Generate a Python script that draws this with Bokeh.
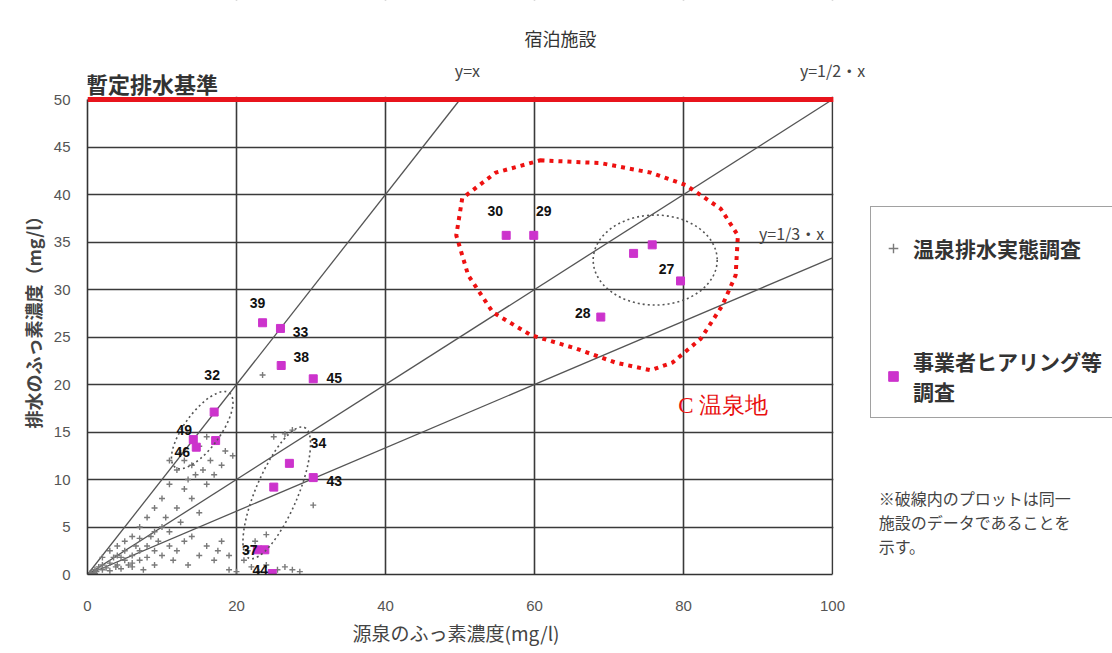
from bokeh.plotting import figure
from bokeh.models import (Range1d, Span, Label, LabelSet, ColumnDataSource,
                          Legend, LegendItem, FixedTicker, BoxAnnotation, Title)
from bokeh.embed import file_html
from bokeh.resources import INLINE
from bokeh.core.properties import value

# ---------------- data ----------------
title_text = "宿泊施設"
x_label = "源泉のふっ素濃度(mg/l)"
y_label = "排水のふっ素濃度（mg/l）"
x_ticks = [0, 20, 40, 60, 80, 100]
y_ticks = [0, 5, 10, 15, 20, 25, 30, 35, 40, 45, 50]
limit_value = 50
limit_label = "暫定排水基準"
ref_slopes = [1.0, 1 / 2, 1 / 3]
ref_labels = ["y=x", "y=1/2・x", "y=1/3・x"]
series_names = ["温泉排水実態調査", "事業者ヒアリング等\n調査"]
note_lines = ["※破線内のプロットは同一", "施設のデータであることを", "示す。"]
area_label = "C 温泉地"

# 温泉排水実態調査 (gray crosses)
survey_x = [0.3, 0.5, 1.0, 1.0, 1.2, 1.5, 2.0, 2.0, 2.0, 2.5, 3.0, 3.0, 3.0, 3.5, 3.8,
            4.0, 4.0, 4.0, 4.5, 4.5, 5.0, 5.0, 5.0, 5.5, 6.0, 6.0, 6.0, 6.0, 6.5, 7.0,
            7.0, 7.0, 7.0, 7.5, 8.0, 8.0, 8.0, 8.5, 9.0, 9.0, 9.0, 9.0, 9.5, 10.0,
            10.0, 10.0, 10.5, 11.0, 11.0, 11.0, 11.0, 11.5, 12.0, 12.0, 12.0, 12.5,
            12.5, 13.0, 13.0, 13.0, 13.5, 13.5, 14.0, 14.0, 14.0, 14.5, 15.0, 15.0,
            15.0, 15.5, 16.0, 16.0, 16.0, 16.5, 17.0, 17.0, 17.5, 18.0, 18.0, 18.5,
            19.0, 19.0, 19.5, 20.0, 21.0, 21.5, 22.0, 22.5, 23.0, 24.0, 24.0, 25.0,
            25.5, 26.5, 26.5, 27.5, 27.5, 28.5, 23.5, 30.3]
survey_y = [0.1, 0.2, 0.5, 0.1, 0.3, 0.8, 0.5, 1.0, 1.8, 0.7, 1.2, 0.4, 2.5, 1.8, 0.8,
            1.0, 2.0, 3.0, 0.6, 1.8, 1.5, 2.5, 3.5, 1.0, 2.0, 0.8, 4.0, 1.2, 3.0, 1.5,
            2.5, 5.0, 3.8, 0.5, 3.0, 1.8, 6.0, 4.0, 2.5, 1.0, 7.0, 4.5, 3.5, 5.0,
            2.0, 8.0, 6.0, 3.0, 4.5, 9.5, 12.0, 1.5, 7.0, 2.5, 11.0, 5.5,
            12.8, 3.5, 9.0, 12.0, 1.0, 10.0, 8.0, 4.0, 11.5, 10.5, 2.0, 6.5,
            13.5, 11.0, 3.0, 9.5, 14.5, 12.0, 1.5, 10.5, 2.5, 11.5, 3.5, 13.0,
            2.0, 0.5, 12.5, 0.3, 1.5, 2.5, 0.8, 3.5, 0.3, 1.0, 4.2, 14.5,
            0.5, 0.8, 14.8, 0.5, 15.2, 0.3, 21.0, 7.3]

# 事業者ヒアリング等調査 (magenta squares)
hearing_x = [56.2, 59.9, 68.9, 73.3, 75.8, 79.6, 23.5, 25.9, 26.0, 30.3,
             17.0, 14.2, 14.6, 17.2, 27.1, 25.0, 30.3, 22.8, 23.8, 24.8]
hearing_y = [35.7, 35.7, 27.1, 33.8, 34.7, 30.9, 26.5, 25.9, 22.0, 20.6,
             17.1, 14.2, 13.4, 14.1, 11.7, 9.2, 10.2, 2.6, 2.6, 0.1]
hearing_id = ["30", "29", "28", "", "", "27", "39", "33", "38", "45",
              "32", "49", "46", "", "34", "", "43", "", "37", "44"]

# outline of the C 温泉地 group (red dotted) and same-facility groups (gray dotted)
area_x = [60.8, 68.9, 75.6, 80.3, 85.0, 87.3, 87.0, 85.2, 82.3, 78.5,
          75.6, 70.9, 65.5, 59.5, 54.4, 51.1, 49.5, 50.3, 54.8]
area_y = [43.6, 43.3, 42.3, 41.0, 38.5, 35.7, 31.5, 28.3, 24.8, 22.3,
          21.5, 22.3, 23.8, 25.2, 27.6, 31.5, 35.7, 39.6, 42.3]
group_x = [76.2, 15.4, 25.4]
group_y = [33.1, 15.2, 8.6]

# ---------------- styles ----------------
label_dx = [-11, 10, -18, 0, 0, -14, -5, 20, 20, 21,
            -2, -9, -14, 0, 29, 0, 21, 0, -15, -12]
label_dy = [24, 24, 4, 0, 0, 12, 20, -4, 9, 1,
            37, 10, -5, 0, 20, 0, -3, 0, 0, 4]
group_w = [124, 92, 142]
group_h = [90, 36, 42]
group_angle = [0.0, 0.94, 1.17]

JP = "Noto Sans CJK JP"
NUM = "Liberation Sans"
W, H = 1112, 653
FL, FB = 87, 79            # frame left / bottom borders (px)
PX_X, PX_Y = 7.45, 9.5     # px per data unit
x_end = (W - FL) / PX_X
y_end = (H - FB) / PX_Y

p = figure(width=W, height=H, output_backend="svg", toolbar_location=None,
           x_range=Range1d(0, x_end), y_range=Range1d(0, y_end),
           min_border_left=FL, min_border_right=0, min_border_top=0,
           min_border_bottom=FB, background_fill_color="white",
           border_fill_color="white")
p.outline_line_color = None

p.xaxis.ticker = FixedTicker(ticks=x_ticks)
p.yaxis.ticker = FixedTicker(ticks=y_ticks)
p.xaxis.bounds = (x_ticks[0], x_ticks[-1])
p.yaxis.bounds = (y_ticks[0], y_ticks[-1])
for ax in (p.xaxis, p.yaxis):
    ax.axis_line_color = "#333333"
    ax.axis_line_width = 1.6
    ax.major_tick_line_color = None
    ax.minor_tick_line_color = None
    ax.major_label_text_font = NUM
    ax.major_label_text_font_size = "15px"
    ax.major_label_text_color = "#555555"
p.xaxis.major_label_standoff = 20
p.yaxis.major_label_standoff = 11

# axis titles, placed along the 0-100 / 0-50 chart box
p.add_layout(Title(text=x_label, align="left", offset=265, standoff=6,
                   text_font=JP, text_font_size="19px", text_font_style="normal",
                   text_color="#444444"), "below")
p.add_layout(Title(text=y_label, align="left", offset=146, standoff=10,
                   text_font=JP, text_font_size="18px", text_font_style="bold",
                   text_color="#444444"), "left")

p.xgrid.ticker = FixedTicker(ticks=x_ticks)
p.ygrid.ticker = FixedTicker(ticks=y_ticks)
for g in (p.xgrid, p.ygrid):
    g.grid_line_color = "#3a3a3a"
    g.grid_line_width = 1.6

# reference lines y = k x
for s in ref_slopes:
    xe = min(float(x_ticks[-1]), limit_value / s)
    p.line([0, xe], [0, s * xe], line_color="#555555", line_width=1.3)

# data
r_gray = p.scatter(survey_x, survey_y, marker="cross", size=6,
                   line_color="#7a7a7a", line_width=1.4)
r_mag = p.scatter(hearing_x, hearing_y, marker="square", size=8,
                  fill_color="#cc33cc", line_color="#cc33cc")

# same-facility groups
p.ellipse(x=group_x, y=group_y, width=group_w, height=group_h, angle=group_angle,
          width_units="screen", height_units="screen", fill_alpha=0,
          line_color="#555555", line_width=1.6, line_dash="2 3")

# C 温泉地 outline
p.patch(area_x, area_y, fill_alpha=0, line_color="#ee1111", line_width=4,
        line_dash="4 5")

# regulation limit
p.add_layout(Span(location=limit_value, dimension="width", line_color="#e8141c",
                  line_width=5))

# blank the area outside the 0-100 x 0-50 chart box
p.add_layout(BoxAnnotation(bottom=limit_value + 0.28, fill_color="white",
                           fill_alpha=1.0, line_color=None))
p.add_layout(BoxAnnotation(left=x_ticks[-1] + 0.12, fill_color="white",
                           fill_alpha=1.0, line_color=None))

# point labels
src = ColumnDataSource(dict(x=hearing_x, y=hearing_y, t=hearing_id,
                            dx=label_dx, dy=label_dy))
p.add_layout(LabelSet(x="x", y="y", text="t", source=src, x_offset="dx",
                      y_offset="dy", text_font=value(NUM), text_font_size="14px",
                      text_font_style="bold", text_color="#111111",
                      text_align="center", text_baseline="middle"))

# texts
p.add_layout(Label(x=63.5, y=56.5, text=title_text, text_font=JP,
                   text_font_size="18px", text_color="#333333",
                   text_align="center", text_baseline="middle"))
p.add_layout(Label(x=-0.2, y=51.7, text=limit_label, text_font=JP,
                   text_font_size="22px", text_font_style="bold",
                   text_color="#333333", text_align="left", text_baseline="middle"))
ref_pos = [(51.0, 53.1), (100.0, 53.1), (94.5, 36.0)]
for (lx, ly), t in zip(ref_pos, ref_labels):
    p.add_layout(Label(x=lx, y=ly, text=t, text_font=JP,
                       text_font_size="16px", text_color="#444444",
                       text_align="center", text_baseline="middle"))
p.add_layout(Label(x=79.3, y=17.8, text=area_label,
                   text_font="Liberation Serif", text_font_size="23px",
                   text_color="#e81010", text_align="left", text_baseline="middle"))
for i, t in enumerate(note_lines):
    p.add_layout(Label(x=106.2, y=8.1 - 2.55 * i, text=t, text_font=JP,
                       text_font_size="16px", text_color="#444444",
                       text_align="left", text_baseline="middle"))

legend = Legend(items=[LegendItem(label=series_names[0], renderers=[r_gray]),
                       LegendItem(label=series_names[1], renderers=[r_mag])],
                location=(783, 156), border_line_color="#444444",
                border_line_width=1.5, padding=10, spacing=66, margin=0,
                glyph_width=24, glyph_height=62, label_standoff=8,
                label_text_font=JP, label_text_font_size="21px",
                label_text_font_style="bold", label_text_color="#333333",
                background_fill_alpha=1.0)
p.add_layout(legend)

open("out.html", "w").write(file_html(p, INLINE))
